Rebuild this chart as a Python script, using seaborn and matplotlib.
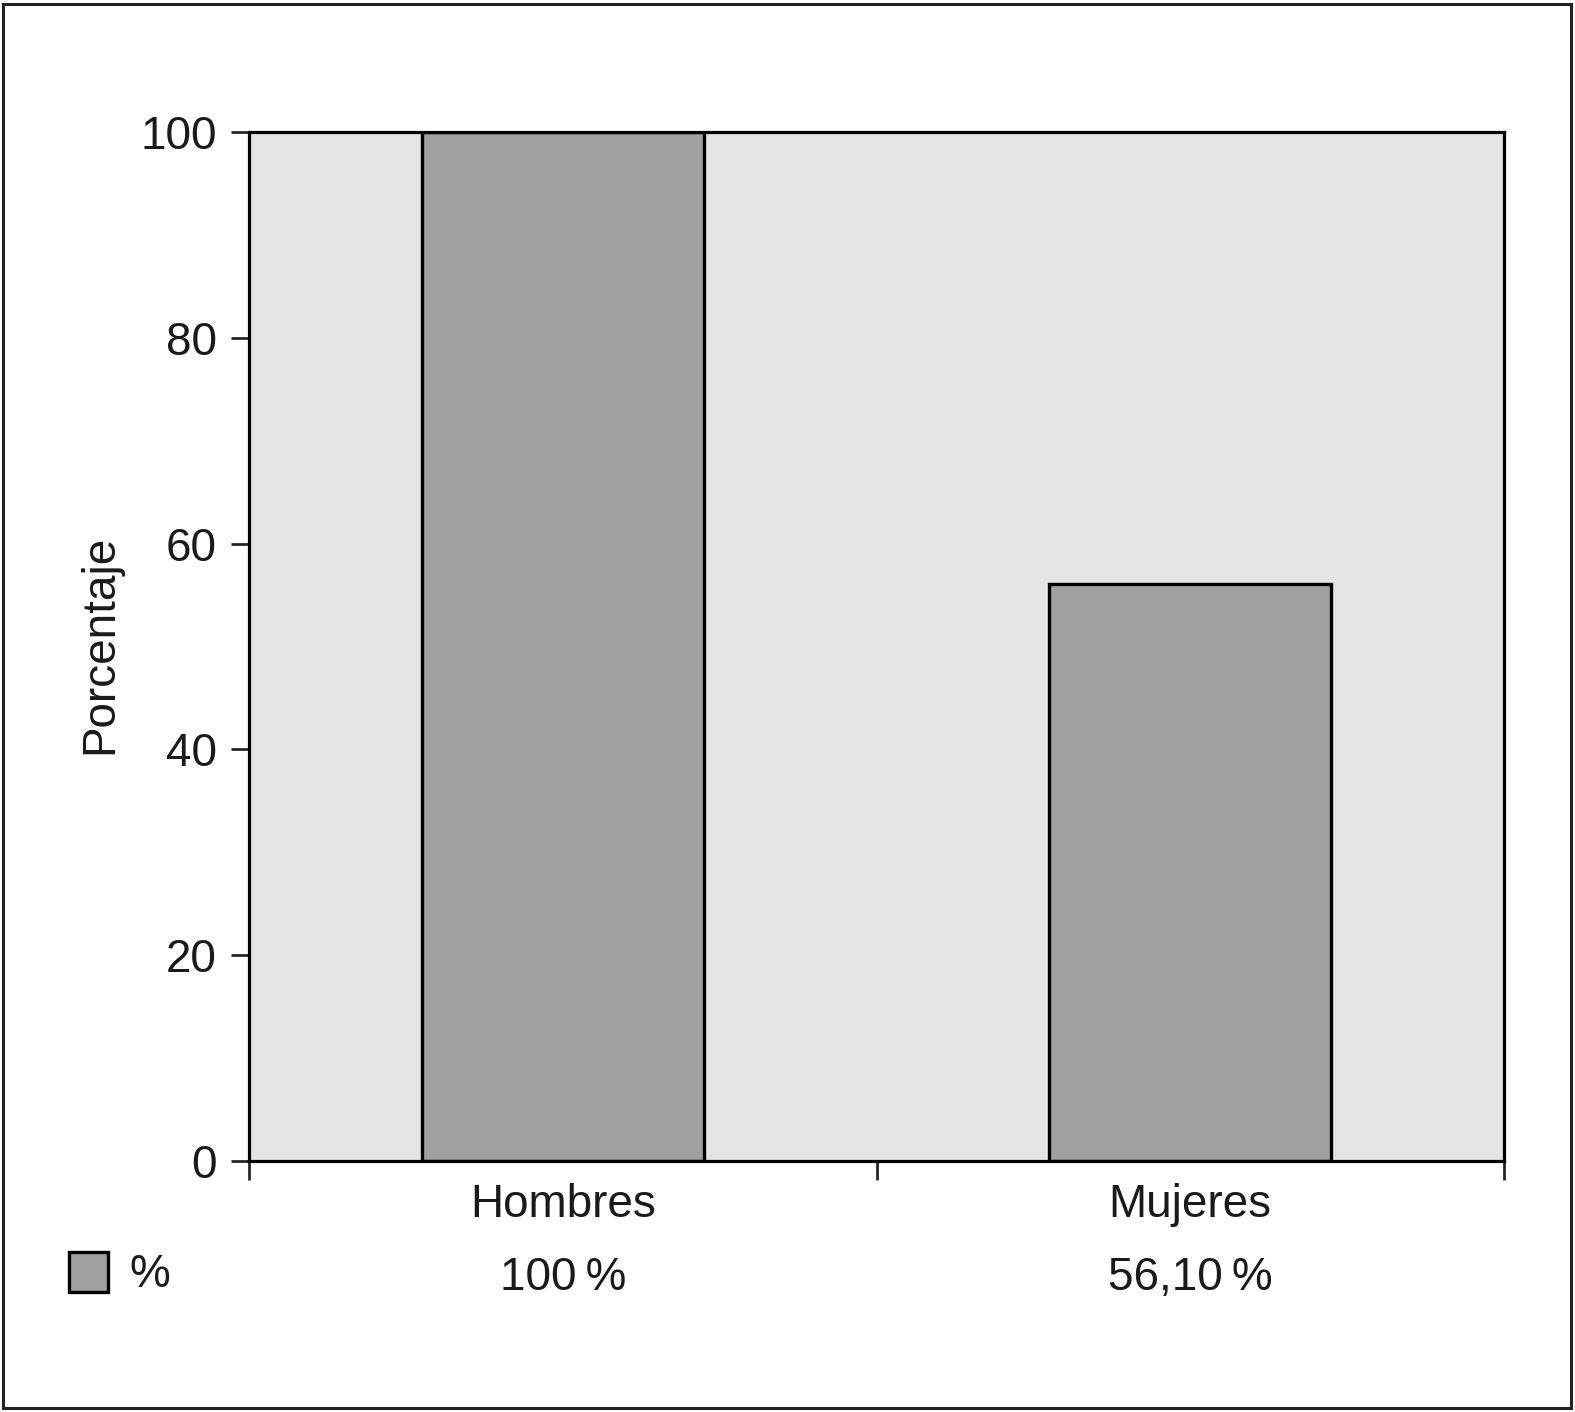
import pandas as pd
import matplotlib
matplotlib.use("Agg")
import matplotlib.pyplot as plt
import matplotlib.patches as mpatches
import matplotlib.transforms as mtransforms
import seaborn as sns

# data
categories = ["Hombres", "Mujeres"]
values = [100.0, 56.1]
value_labels = ["100\u2009%", "56,10\u2009%"]
y_ticks = [0, 20, 40, 60, 80, 100]
series_name = "%"

BAR_COLOR = "#a0a0a0"
BG_COLOR = "#e4e4e4"
FS = 33

sns.set_theme(style="white")
plt.rcParams["font.family"] = ["Liberation Sans", "DejaVu Sans"]

df = pd.DataFrame({"grupo": categories, "pct": values})

fig = plt.figure(figsize=(15.75, 14.12), dpi=100)
ax = fig.add_axes([249 / 1575, 1 - 1161 / 1412, (1504 - 249) / 1575, (1161 - 132) / 1412])

sns.barplot(data=df, x="grupo", y="pct", color=BAR_COLOR, width=0.45,
            edgecolor="black", linewidth=2.4, saturation=1, ax=ax)

ax.set_facecolor(BG_COLOR)
ax.set_xlim(-0.5, 1.5)
ax.set_ylim(0, 100)
for s in ax.spines.values():
    s.set_visible(True)
    s.set_color("black")
    s.set_linewidth(2.3)

ax.set_yticks(y_ticks)
ax.set_yticklabels([str(t) for t in y_ticks], fontsize=FS, color="#1a1a1a")
ax.tick_params(axis="y", direction="out", length=13, width=2.0, pad=10, left=True)

# x ticks sit on the category boundaries, labels drawn as text
ax.set_xticks([-0.5, 0.5, 1.5])
ax.set_xticklabels([])
ax.tick_params(axis="x", direction="out", length=14, width=2.0, bottom=True)
ax.set_xlabel("")
ax.set_ylabel("")

trans = mtransforms.blended_transform_factory(ax.transData, ax.transAxes)
for i, (cat, lab) in enumerate(zip(categories, value_labels)):
    ax.text(i, -0.043, cat, transform=trans, ha="center", va="center",
            fontsize=FS, color="#1a1a1a")
    ax.text(i, -0.114, lab, transform=trans, ha="center", va="center",
            fontsize=FS, color="#1a1a1a")

# data table legend key
fig.patches.append(mpatches.Rectangle((69 / 1575, 1 - 1292 / 1412), 39 / 1575, 40 / 1412,
                                      transform=fig.transFigure, facecolor=BAR_COLOR,
                                      edgecolor="black", linewidth=2.4))
fig.text(129 / 1575, 1 - 1275 / 1412, series_name, ha="left", va="center",
         fontsize=FS, color="#1a1a1a")

fig.text(100 / 1575, 1 - 644 / 1412, "Porcentaje", rotation=90, ha="center",
         va="center", fontsize=FS, color="#1a1a1a")

# outer frame
fig.patches.append(mpatches.Rectangle((3 / 1575, 4 / 1412), 1568 / 1575, 1404 / 1412,
                                      transform=fig.transFigure, fill=False,
                                      edgecolor="#222222", linewidth=2.2))

fig.savefig("out.png", dpi=100, facecolor="white")
